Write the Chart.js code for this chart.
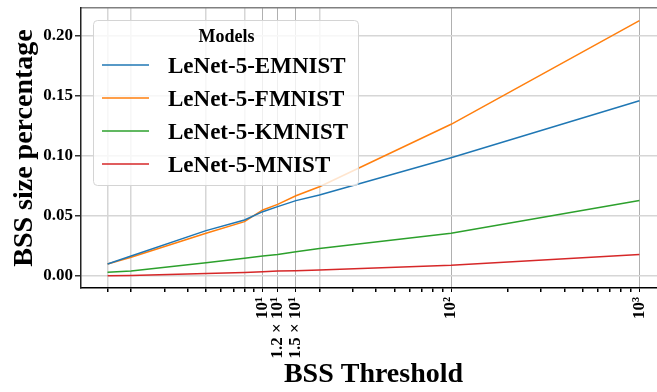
<!DOCTYPE html>
<html>
<head>
<meta charset="utf-8">
<script src="https://cdn.jsdelivr.net/npm/chart.js@4.4.1/dist/chart.umd.min.js"></script>
<style>
html, body { margin: 0; padding: 0; background: #fff; overflow: hidden; }
#wrap { position: absolute; left: 0; top: 0; width: 666px; height: 392px; }
</style>
</head>
<body>
<div id="wrap"><canvas id="chart"></canvas></div>
<script>
// ---------------- DATA ----------------
const thresholds = [1.5, 2, 5, 8, 10, 12, 15, 20, 100, 1000];

const emnist = [0.0100, 0.0167, 0.0378, 0.0467, 0.0536, 0.0578, 0.0628, 0.0675, 0.0986, 0.1460];
const fmnist = [0.0100, 0.0156, 0.0356, 0.0453, 0.0550, 0.0597, 0.0669, 0.0744, 0.1264, 0.2128];
const kmnist = [0.0031, 0.0042, 0.0110, 0.0147, 0.0167, 0.0180, 0.0203, 0.0230, 0.0356, 0.0630];
const mnist  = [0.0003, 0.0005, 0.0020, 0.0030, 0.0036, 0.0042, 0.0044, 0.0050, 0.0089, 0.0180];

const seriesNames = ["LeNet-5-EMNIST", "LeNet-5-FMNIST", "LeNet-5-KMNIST", "LeNet-5-MNIST"];
const seriesColors = ["#1f77b4", "#ff7f0e", "#2ca02c", "#d62728"];

// labelled x ticks
const xLabelValues = [10, 12, 15, 100, 1000];
const xLabelTexts = ["10\u00b9", "1.2 \u00d7 10\u00b9", "1.5 \u00d7 10\u00b9", "10\u00b2", "10\u00b3"];

const yTicks = [0, 0.05, 0.10, 0.15, 0.20];

// ---------------- AXIS HELPERS ----------------
const serif = "'Liberation Serif', 'Times New Roman', serif";
const xMin = 1.084, xMax = 1384;

// minor log ticks 2..9 of each decade
const minorTicks = [];
[1, 10, 100].forEach(d => {
  for (let k = 2; k <= 9; k++) minorTicks.push(d * k);
});
const allXTicks = Array.from(new Set([...minorTicks, ...thresholds, 1000])).sort((a, b) => a - b);

function isLabelled(v) { return xLabelValues.some(t => Math.abs(t - v) < 1e-9); }
function isGrid(v) { return thresholds.some(t => Math.abs(t - v) < 1e-9); }

const series = [emnist, fmnist, kmnist, mnist];
const datasets = series.map((vals, i) => ({
  label: seriesNames[i],
  data: thresholds.map((t, j) => ({ x: t, y: vals[j] })),
  borderColor: seriesColors[i],
  backgroundColor: seriesColors[i],
  borderWidth: 1.5,
  pointRadius: 0,
  tension: 0,
  fill: false
}));

// ---------------- LEGEND ----------------
const legendBox = {
  id: "legendBox",
  afterDatasetsDraw(chart) {
    const { ctx, chartArea } = chart;
    const x0 = chartArea.left + 12, y0 = chartArea.top + 12, w = 265, h = 165;
    ctx.save();
    ctx.fillStyle = "rgba(255,255,255,0.8)";
    ctx.strokeStyle = "#d4d4d4";
    ctx.lineWidth = 1;
    ctx.beginPath();
    ctx.roundRect(x0 + 0.5, y0 + 0.5, w, h, 4);
    ctx.fill();
    ctx.stroke();

    ctx.fillStyle = "#000";
    ctx.font = "bold 18px " + serif;
    ctx.textAlign = "center";
    ctx.textBaseline = "alphabetic";
    ctx.fillText("Models", x0 + w / 2 + 1, y0 + 22);

    chart.data.datasets.forEach((ds, i) => {
      const y = y0 + 45 + i * 33;
      ctx.strokeStyle = ds.borderColor;
      ctx.lineWidth = 1.5;
      ctx.beginPath();
      ctx.moveTo(x0 + 9, y);
      ctx.lineTo(x0 + 56, y);
      ctx.stroke();
      ctx.fillStyle = "#000";
      ctx.font = "bold 23px " + serif;
      ctx.textAlign = "left";
      ctx.fillText(ds.label, x0 + 75, y + 8);
    });
    ctx.restore();
  }
};

// ---------------- CHART ----------------
const chart = new Chart(document.getElementById("chart"), {
  type: "line",
  data: { datasets },
  plugins: [legendBox],
  options: {
    animation: false,
    responsive: true,
    maintainAspectRatio: false,
    devicePixelRatio: 1,
    layout: { padding: 0 },
    plugins: { legend: { display: false }, tooltip: { enabled: false } },
    scales: {
      x: {
        type: "logarithmic",
        position: "bottom",
        min: xMin,
        max: xMax,
        afterBuildTicks: s => { s.ticks = allXTicks.map(v => ({ value: v })); },
        afterFit: s => { s.height = 104; },
        ticks: {
          autoSkip: false,
          minRotation: 90,
          maxRotation: 90,
          padding: 5,
          color: "#000",
          font: { family: serif, size: 17, weight: "bold" },
          callback: v => {
            const k = xLabelValues.findIndex(t => Math.abs(t - v) < 1e-9);
            return k >= 0 ? xLabelTexts[k] : "";
          }
        },
        grid: {
          drawOnChartArea: true,
          tickLength: 4,
          tickColor: "#000",
          color: c => {
            const v = c.tick ? c.tick.value : 0;
            if (!isGrid(v)) return "rgba(0,0,0,0)";
            return isLabelled(v) ? "#b0b0b0" : "#d6d6d6";
          },
          lineWidth: c => {
            const v = c.tick ? c.tick.value : 0;
            return isLabelled(v) ? 1 : 1.5;
          }
        },
        border: { display: true, color: "#000", width: 1.5 },
        title: {
          display: true,
          text: "BSS Threshold",
          color: "#000",
          font: { family: serif, size: 28, weight: "bold" },
          padding: { top: 0, bottom: 0 }
        }
      },
      x2: {
        type: "logarithmic",
        position: "top",
        min: xMin,
        max: xMax,
        afterFit: s => { s.height = 8; },
        ticks: { display: false },
        grid: { display: false, drawTicks: false },
        border: { display: true, color: "#808080", width: 1.5 }
      },
      y: {
        min: -0.01,
        max: 0.2233,
        afterBuildTicks: s => { s.ticks = yTicks.map(v => ({ value: v })); },
        afterFit: s => { s.width = 81; s.paddingTop = 0; s.paddingBottom = 0; },
        ticks: {
          padding: 2,
          color: "#000",
          font: { family: serif, size: 17, weight: "bold" },
          callback: v => Number(v).toFixed(2)
        },
        grid: {
          color: "#d6d6d6",
          lineWidth: 1.5,
          tickLength: 6,
          tickColor: "#333"
        },
        border: { display: true, color: "#222", width: 1.5 },
        title: {
          display: true,
          text: "BSS size percentage",
          color: "#000",
          font: { family: serif, size: 28, weight: "bold" },
          padding: { top: 8, bottom: 0 }
        }
      }
    }
  }
});
</script>
</body>
</html>
